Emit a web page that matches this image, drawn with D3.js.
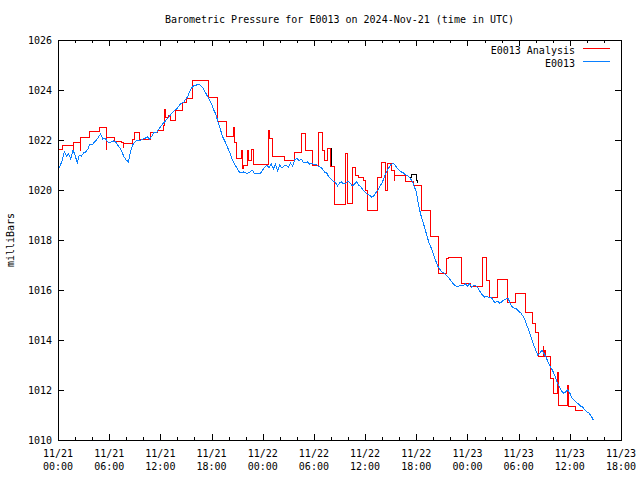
<!DOCTYPE html>
<html>
<head>
<meta charset="utf-8">
<script src="https://cdn.jsdelivr.net/npm/d3@7"></script>
<style>
  html, body { margin: 0; padding: 0; background: #fff; }
  svg text { font-family: "DejaVu Sans Mono", "Liberation Mono", monospace; font-size: 10px; fill: #000; }
</style>
</head>
<body>
<svg id="chart" width="640" height="480"></svg>
<script>
// ---------------- data ----------------
const titleText = "Barometric Pressure for E0013 on 2024-Nov-21 (time in UTC)";
const yLabelText = "milliBars";
const seriesNames = ["E0013 Analysis", "E0013"];
const seriesColors = ["#ff0000", "#0a80ff"];
const startTime = Date.UTC(2024, 10, 21, 0, 0);
const endTime = Date.UTC(2024, 10, 23, 18, 0);
const yDomain = [1010, 1026];
const yTicks = [1010, 1012, 1014, 1016, 1018, 1020, 1022, 1024, 1026];

// observations, one value every 15 minutes from 11/21 00:00
const obsStepMinutes = 15;
const obsValues = [
  1020.84, 1020.96, 1021.2, 1021.52,
  1021.36, 1021.44, 1021.24, 1021.6,
  1021.4, 1021.08, 1021.4, 1021.36,
  1021.48, 1021.52, 1021.64, 1021.84,
  1021.8, 1021.92, 1022.0, 1022.12,
  1022.24, 1022.04, 1022.08, 1021.96,
  1021.88, 1021.92, 1021.96, 1021.92,
  1021.8, 1021.68, 1021.52, 1021.32,
  1021.2, 1021.12, 1021.52, 1021.8,
  1021.92, 1022.0, 1021.96, 1022.0,
  1022.04, 1022.08, 1022.12, 1022.04,
  1022.16, 1022.32, 1022.28, 1022.4,
  1022.52, 1022.64, 1022.72, 1022.84,
  1022.92, 1023.04, 1023.12, 1023.2,
  1023.28, 1023.4, 1023.48, 1023.52,
  1023.64, 1023.76, 1024.0, 1024.12,
  1024.2, 1024.2, 1024.24, 1024.16,
  1024.08, 1023.92, 1023.76, 1023.6,
  1023.44, 1023.2, 1023.04, 1022.72,
  1022.48, 1022.16, 1022.0, 1021.8,
  1021.6, 1021.4, 1021.16, 1021.0,
  1020.88, 1020.72, 1020.68, 1020.72,
  1020.68, 1020.68, 1020.72, 1020.8,
  1020.68, 1020.64, 1020.68, 1020.68,
  1020.8, 1020.92, 1021.0, 1020.88,
  1021.04, 1020.84, 1021.04, 1020.76,
  1021.0, 1020.88, 1020.96, 1021.0,
  1020.92, 1021.08, 1020.96, 1021.2,
  1021.28, 1021.16, 1021.24, 1021.12,
  1021.08, 1021.12, 1021.04, 1021.08,
  1021.0, 1021.04, 1020.96, 1020.92,
  1020.84, 1020.72, 1020.68, 1020.52,
  1020.44, 1020.36, 1020.32, 1020.16,
  1020.28, 1020.32, 1020.24, 1020.28,
  1020.36, 1020.28, 1020.16, 1020.24,
  1020.32, 1020.2, 1020.12, 1020.0,
  1019.92, 1019.84, 1019.8, 1019.72,
  1019.76, 1019.88, 1020.0, 1020.16,
  1020.28, 1020.52, 1020.72, 1020.88,
  1021.0, 1021.08, 1021.0, 1020.88,
  1020.8, 1020.72, 1020.68, 1020.6,
  1020.56, 1020.48, 1020.36, 1020.16,
  1019.92, 1019.44, 1019.04, 1018.76,
  1018.48, 1018.16, 1017.88, 1017.68,
  1017.44, 1017.2, 1016.96, 1016.84,
  1016.72, 1016.68, 1016.6, 1016.52,
  1016.4, 1016.28, 1016.2, 1016.12,
  1016.16, 1016.2, 1016.16, 1016.24,
  1016.16, 1016.24, 1016.12, 1016.2,
  1016.16, 1016.08, 1015.92, 1015.8,
  1015.72, 1015.76, 1015.68, 1015.72,
  1015.6, 1015.48, 1015.56, 1015.48,
  1015.52, 1015.6, 1015.64, 1015.68,
  1015.48, 1015.32, 1015.28, 1015.24,
  1015.16, 1015.08, 1014.96, 1014.8,
  1014.56, 1014.32, 1014.08, 1013.8,
  1013.6, 1013.4, 1013.48, 1013.6,
  1013.44, 1013.28, 1013.08, 1012.92,
  1012.76, 1012.56, 1012.32, 1012.16,
  1011.96, 1011.88, 1011.92, 1012.0,
  1011.88, 1011.68, 1011.6, 1011.52,
  1011.44, 1011.36, 1011.32, 1011.2,
  1011.12, 1011.08, 1010.96, 1010.8
];

// analysis: [hours since 11/21 00:00, value], held until the next entry
const analysisSteps = [
  [0, 1021.64], [0.47, 1021.78], [1.76, 1021.56], [1.86, 1021.92], [2.58, 1021.6], [2.68, 1022.1],
  [3.75, 1022.36], [4.81, 1022.52], [5.63, 1021.64], [5.73, 1022.12], [6.68, 1021.96], [7.5, 1021.9],
  [7.62, 1021.72], [7.72, 1021.88], [8.68, 1022.04], [8.91, 1022.3], [9.61, 1022.04], [10.79, 1022.3],
  [11.72, 1022.4], [12.31, 1022.6], [12.54, 1023.24], [12.66, 1022.9], [12.95, 1023.0], [13.13, 1022.8],
  [13.72, 1023.2], [14.65, 1023.52], [15.12, 1023.68], [15.71, 1024.4], [17.59, 1023.7], [18.64, 1022.74],
  [19.7, 1022.16], [20.63, 1022.5], [20.73, 1021.92], [20.98, 1021.26], [21.57, 1021.6], [21.67, 1020.85],
  [21.77, 1021.0], [22.16, 1021.6], [22.3, 1021.2], [22.74, 1021.64], [22.86, 1021.04], [24.62, 1022.4],
  [24.74, 1022.08], [25.09, 1021.36], [26.61, 1021.2], [27.78, 1021.5], [28.6, 1022.28], [28.96, 1021.6],
  [29.78, 1021.0], [30.48, 1022.32], [30.95, 1021.6], [31.3, 1021.2], [31.54, 1021.68], [31.89, 1020.96],
  [32.47, 1019.44], [33.65, 1021.48], [33.88, 1019.48], [34.58, 1020.92], [34.82, 1020.6], [35.17, 1020.52],
  [35.76, 1020.4], [36.1, 1020.0], [36.34, 1019.2], [37.51, 1020.5], [37.98, 1021.1], [38.45, 1020.0],
  [38.6, 1021.08], [39.04, 1020.8], [39.39, 1020.4], [39.5, 1020.6], [40.68, 1020.36], [41.62, 1020.2],
  [42.56, 1019.2], [43.61, 1018.16], [44.55, 1016.68], [45.6, 1017.28], [45.72, 1017.32], [47.25, 1016.28],
  [48.3, 1016.16], [49.71, 1017.32], [50.29, 1016.4], [50.64, 1015.72], [51.58, 1016.44], [52.75, 1015.52],
  [53.58, 1015.86], [54.75, 1015.12], [55.57, 1014.68], [55.92, 1014.32], [56.27, 1013.36], [56.86, 1013.76],
  [56.96, 1013.36], [57.09, 1013.6], [57.2, 1013.36], [57.68, 1012.48], [58.03, 1011.88], [58.5, 1012.72],
  [58.62, 1011.4], [59.67, 1012.2], [59.79, 1011.36], [60.61, 1011.2], [61.55, 1011.2]
];

// short untitled black trace segments peeking out from under the analysis
const blackSegA = [[28.45, 1021.5], [28.5, 1022.28], [29.05, 1021.6], [29.1, 1021.6]];
const blackSegB = [[31.5, 1021.2], [31.55, 1021.68], [32.05, 1021.0], [32.1, 1021.0]];
const blackSegC = [[41.3, 1020.52], [41.4, 1020.64], [42.0, 1020.4], [42.1, 1020.3]];

// ---------------- chart ----------------
const svg = d3.select("#chart");
const L = 58, R = 621, T = 40, B = 440;
const hour = 3600000;
const x = d3.scaleUtc().domain([new Date(startTime), new Date(endTime)]).range([L, R]);
const y = d3.scaleLinear().domain(yDomain).range([B, T]);
const toDate = h => new Date(startTime + h * hour);

// axes ticks (inward, mirrored)
const majorX = d3.utcHour.every(6).range(new Date(startTime), new Date(endTime + 1));
const minorX = d3.utcHour.every(2).range(new Date(startTime), new Date(endTime + 1)).filter(d => d.getUTCHours() % 6 !== 0);

function tickGroup(axis, tx, ty) {
  const g = svg.append("g").attr("transform", `translate(${tx},${ty})`).call(axis);
  g.select(".domain").remove();
  g.selectAll("line").attr("stroke", "#000").attr("shape-rendering", "crispEdges");
  return g;
}
tickGroup(d3.axisBottom(x).tickValues(majorX).tickSizeInner(-6).tickSizeOuter(0).tickFormat(""), 0, B);
tickGroup(d3.axisBottom(x).tickValues(minorX).tickSizeInner(-3).tickSizeOuter(0).tickFormat(""), 0, B);
tickGroup(d3.axisTop(x).tickValues(majorX).tickSizeInner(-6).tickSizeOuter(0).tickFormat(""), 0, T);
tickGroup(d3.axisTop(x).tickValues(minorX).tickSizeInner(-3).tickSizeOuter(0).tickFormat(""), 0, T);
const yl = tickGroup(d3.axisLeft(y).tickValues(yTicks).tickSizeInner(-6).tickSizeOuter(0).tickPadding(6).tickFormat(d3.format("d")), L, 0);
yl.selectAll("text").attr("font-family", null).attr("font-size", null).attr("fill", "#000");
tickGroup(d3.axisRight(y).tickValues(yTicks).tickSizeInner(-6).tickSizeOuter(0).tickFormat(""), R, 0);

// x labels, two lines
const fmtDay = d3.utcFormat("%m/%d"), fmtTime = d3.utcFormat("%H:%M");
const xl = svg.append("g").selectAll("text").data(majorX).join("text")
  .attr("text-anchor", "middle").attr("x", d => x(d));
xl.append("tspan").attr("x", d => x(d)).attr("y", 457).text(d => fmtDay(d));
xl.append("tspan").attr("x", d => x(d)).attr("y", 470).text(d => fmtTime(d));

// series
const stepLine = d3.line().x(d => x(toDate(d[0]))).y(d => y(d[1])).curve(d3.curveStepAfter);
[blackSegA, blackSegB, blackSegC].forEach(seg => {
  svg.append("path").attr("d", stepLine(seg)).attr("fill", "none").attr("stroke", "#000")
    .attr("stroke-width", 1).attr("shape-rendering", "crispEdges");
});
svg.append("path").attr("d", stepLine(analysisSteps)).attr("fill", "none")
  .attr("stroke", seriesColors[0]).attr("stroke-width", 1).attr("shape-rendering", "crispEdges");

const obsLine = d3.line()
  .x((d, i) => x(new Date(startTime + i * obsStepMinutes * 60000)))
  .y(d => y(d));
svg.append("path").attr("d", obsLine(obsValues)).attr("fill", "none")
  .attr("stroke", seriesColors[1]).attr("stroke-width", 1).attr("shape-rendering", "crispEdges");

// border
svg.append("rect").attr("x", L + 0.5).attr("y", T + 0.5).attr("width", R - L).attr("height", B - T)
  .attr("fill", "none").attr("stroke", "#000").attr("stroke-width", 1);

// title, y label
svg.append("text").attr("x", (L + R) / 2).attr("y", 23).attr("text-anchor", "middle").text(titleText);
svg.append("text").attr("transform", "translate(14,240) rotate(-90)").attr("text-anchor", "middle").text(yLabelText);

// legend
const leg = svg.append("g").selectAll("g").data(seriesNames).join("g")
  .attr("transform", (d, i) => `translate(0,${50 + i * 13})`);
leg.append("text").attr("x", 575).attr("y", 4).attr("text-anchor", "end").text(d => d);
leg.append("line").attr("x1", 583).attr("x2", 610).attr("y1", -1.5).attr("y2", -1.5)
  .attr("stroke", (d, i) => seriesColors[i]).attr("stroke-width", 1).attr("shape-rendering", "crispEdges");
</script>
</body>
</html>
